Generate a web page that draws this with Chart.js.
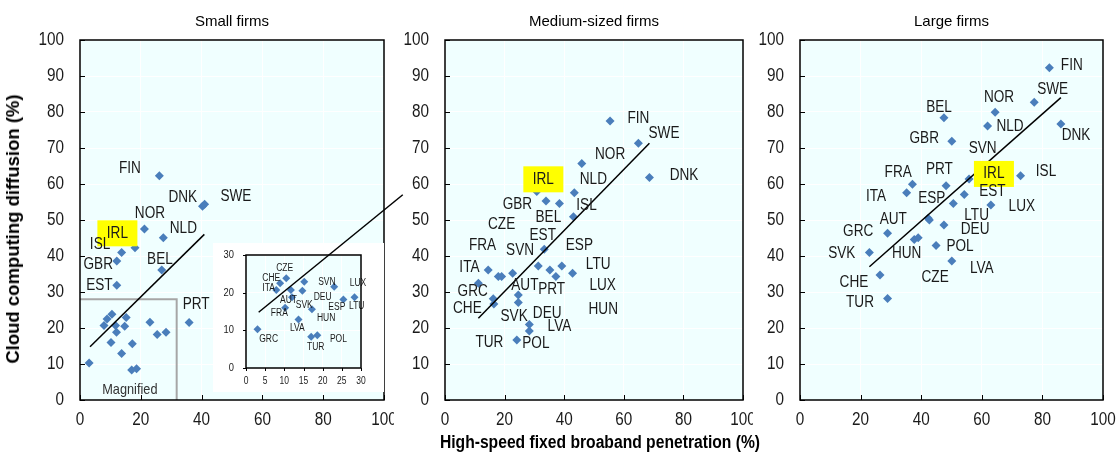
<!DOCTYPE html>
<html>
<head>
<meta charset="utf-8">
<title>Cloud computing diffusion and high-speed broadband, by firm size</title>
<script src="https://cdn.jsdelivr.net/npm/chart.js@4.4.1/dist/chart.umd.min.js"></script>
<style>
  html, body { margin: 0; padding: 0; background: #fff; }
  #fig { position: relative; width: 1117px; height: 453px; overflow: hidden; }
  #fig canvas { position: absolute; top: 0; }
  #c1 { left: 0; }
  #c2 { left: 395px; }
  #c3 { left: 750px; }
  #cInset { left: 205px; top: 180px !important; }
  .axis-title { position: absolute; font-family: "Liberation Sans", Arial, sans-serif;
    font-weight: bold; color: #000; white-space: nowrap; }
  #yTitle { left: 13px; top: 229px; font-size: 18.5px; transform: translate(-50%, -50%) rotate(-90deg); }
  #xTitle { left: 600px; top: 442px; font-size: 18px; transform: translate(-50%, -50%) scaleX(0.87); }
</style>
</head>
<body>
<div id="fig">
  <canvas id="c1" width="394" height="453"></canvas>
  <canvas id="c2" width="358" height="453"></canvas>
  <canvas id="c3" width="367" height="453"></canvas>
  <canvas id="cInset" width="205" height="215"></canvas>
  <div class="axis-title" id="yTitle">Cloud computing diffusion (%)</div>
  <div class="axis-title" id="xTitle">High-speed fixed broaband penetration (%)</div>
</div>
<script>
const FONT = '"Liberation Sans", Arial, sans-serif';
const NARROW = 0.85;          // horizontal squeeze, mimics Arial Narrow
const MARKER = '#4A7EBB';
const PLOT_BG = '#F0FFFF';
const INK = '#1A1A1A';

// ── tick labels ─────────────────────────────
const xTickVals = [0, 20, 40, 60, 80, 100];
const yTickVals = [0, 10, 20, 30, 40, 50, 60, 70, 80, 90, 100];
const insetXTickVals = [0, 5, 10, 15, 20, 25, 30];
const insetYTickVals = [0, 10, 20, 30];

// ── Small firms ─────────────────────────────
const smallCountries = ['FIN', 'DNK', 'SWE', 'NOR', 'NLD', 'IRL', 'ISL', 'GBR', 'BEL', 'EST', 'PRT', 'CZE', 'CHE', 'ITA',
  'LUX', 'DEU', 'SVK', 'AUT', 'FRA', 'HUN', 'SVN', 'ESP', 'LTU', 'LVA', 'TUR', 'POL', 'GRC'];
const smallBroadband = [26.1, 40.3, 41.0, 21.2, 27.4, 18.1, 13.7, 12.1, 26.9, 12.1, 35.9, 10.5, 8.9, 7.9,
  11.7, 15.2, 14.7, 12.0, 10.2, 17.2, 23.0, 25.4, 28.3, 13.7, 17.0, 18.6, 3.0];
const smallCloud = [62.3, 53.8, 54.4, 47.5, 45.1, 42.3, 41.0, 38.6, 36.1, 31.9, 21.5, 23.8, 22.5, 20.7,
  20.7, 22.9, 20.5, 18.8, 16.0, 15.6, 21.6, 18.2, 18.8, 12.9, 8.3, 8.7, 10.3];
const smallTrendX = [3.3, 40.9];
const smallTrendY = [14.8, 46.0];
const magnifiedX = [0, 31.8, 31.8];
const magnifiedY = [28, 28, 0];

// ── Medium-sized firms ──────────────────────
const mediumCountries = ['FIN', 'SWE', 'NOR', 'DNK', 'IRL', 'NLD', 'GBR', 'BEL', 'ISL', 'EST', 'ITA', 'FRA', 'CZE', 'SVN',
  'HUN', 'LUX', 'ESP', 'LTU', 'PRT', 'GRC', 'CHE', 'TUR', 'AUT', 'SVK', 'DEU', 'LVA', 'POL'];
const mediumBroadband = [55.4, 64.9, 45.9, 68.6, 30.8, 43.4, 33.9, 38.4, 43.1, 33.3, 14.5, 17.9, 19.0, 22.7,
  31.3, 35.2, 39.2, 42.8, 37.2, 11.2, 16.4, 16.2, 24.6, 24.6, 28.3, 28.3, 24.1];
const mediumCloud = [77.5, 71.3, 65.7, 61.8, 57.9, 57.6, 55.3, 54.6, 50.9, 41.9, 36.1, 34.3, 34.3, 35.2,
  37.2, 36.1, 37.2, 35.2, 34.3, 32.4, 26.7, 28.1, 29.2, 27.1, 21.0, 19.2, 16.7];
const mediumTrendX = [11.2, 68.6];
const mediumTrendY = [22.7, 71.3];

// ── Large firms ─────────────────────────────
const largeCountries = ['FIN', 'SWE', 'NOR', 'BEL', 'NLD', 'DNK', 'GBR', 'ISL', 'IRL', 'SVN', 'FRA', 'PRT', 'ITA', 'EST',
  'ESP', 'LUX', 'AUT', 'LTU', 'DEU', 'GRC', 'HUN', 'CZE', 'POL', 'SVK', 'LVA', 'CHE', 'TUR'];
const largeBroadband = [82.3, 77.3, 64.4, 47.5, 61.9, 86.1, 50.1, 72.8, 55.8, 60.0, 37.1, 48.2, 35.2, 54.2,
  50.6, 63.0, 42.3, 42.7, 47.5, 28.9, 37.7, 39.0, 44.9, 22.9, 50.1, 26.4, 28.9];
const largeCloud = [92.3, 82.7, 79.9, 78.4, 76.1, 76.7, 71.9, 62.3, 61.4, 63.0, 59.9, 59.5, 57.6, 57.1,
  54.6, 54.2, 50.5, 50.0, 48.6, 46.3, 44.6, 45.1, 42.9, 41.0, 38.6, 34.7, 28.2];
const largeTrendX = [22.9, 86.1];
const largeTrendY = [37.0, 84.0];

// ── where each country code sits (axis units) ─
const smallLabelAt = {
  FIN: [16.4, 64.4], DNK: [33.8, 56.2], SWE: [51.3, 56.4], NOR: [23.0, 51.7], NLD: [34.0, 47.5],
  IRL: [12.3, 46.3], ISL: [6.6, 43.1], GBR: [6.0, 37.5], BEL: [26.3, 39.1], EST: [6.4, 31.9], PRT: [38.2, 26.4],
};
const insetLabelAt = {
  CZE: [10.1, 26.4], CHE: [6.6, 23.8], ITA: [5.9, 21.3], AUT: [11.1, 18.0], FRA: [8.7, 14.5], SVK: [15.2, 16.7],
  SVN: [21.1, 22.7], LUX: [29.2, 22.5], DEU: [20.0, 18.9], ESP: [23.7, 16.0], LTU: [28.9, 16.3], HUN: [20.9, 13.2],
  LVA: [13.4, 10.5], GRC: [5.9, 7.6], TUR: [18.2, 5.6], POL: [24.1, 7.7],
};
const mediumLabelAt = {
  FIN: [64.9, 78.2], SWE: [73.5, 74.1], NOR: [55.4, 68.1], DNK: [80.2, 62.2], IRL: [33.0, 61.3], NLD: [49.8, 61.3],
  GBR: [24.3, 54.2], BEL: [34.7, 50.7], ISL: [47.5, 53.9], CZE: [19.0, 48.6], EST: [32.8, 45.6], FRA: [12.6, 42.8],
  SVN: [25.2, 41.5], ESP: [45.1, 42.8], ITA: [8.2, 36.9], LTU: [51.4, 37.5], GRC: [9.3, 30.1], AUT: [26.8, 31.7],
  PRT: [35.8, 30.6], LUX: [52.9, 31.9], CHE: [7.5, 25.5], SVK: [23.2, 23.1], DEU: [34.3, 24.1], HUN: [53.1, 25.2],
  LVA: [38.4, 20.4], TUR: [14.9, 15.9], POL: [30.5, 15.7],
};
const largeLabelAt = {
  FIN: [89.7, 92.8], SWE: [83.4, 86.1], NOR: [65.7, 84.0], BEL: [45.9, 81.2], NLD: [69.3, 75.9], DNK: [91.1, 73.4],
  GBR: [41.0, 72.7], SVN: [60.3, 69.9], IRL: [64.0, 62.8], ISL: [81.2, 63.4], FRA: [32.4, 63.1], PRT: [46.0, 64.1],
  ITA: [25.1, 56.5], ESP: [43.5, 56.0], EST: [63.5, 57.9], LUX: [73.2, 53.7], AUT: [30.8, 50.2], LTU: [58.3, 51.1],
  GRC: [19.2, 46.8], DEU: [57.8, 47.2], SVK: [13.8, 40.8], HUN: [35.2, 40.8], POL: [52.8, 42.6], LVA: [60.0, 36.6],
  CZE: [44.6, 34.1], CHE: [17.8, 32.6], TUR: [19.8, 27.0],
};

// ────────────────────────────────────────────
// Text helper: squeezed text (no Arial Narrow installed)
// ────────────────────────────────────────────
function narrowText(ctx, text, x, y, align, size) {
  ctx.save();
  ctx.font = `${size}px ${FONT}`;
  ctx.textAlign = align;
  ctx.textBaseline = 'middle';
  ctx.translate(x, y);
  ctx.scale(NARROW, 1);
  ctx.fillText(text, 0, 0);
  ctx.restore();
}

// ────────────────────────────────────────────
// Plugins
// ────────────────────────────────────────────
const countryLabels = {
  id: 'countryLabels',
  afterDatasetsDraw(chart, args, o) {
    if (!o.pos) return;
    const { ctx, scales: { x, y } } = chart;
    ctx.save();
    ctx.fillStyle = INK;
    for (const [name, [lx, ly]] of Object.entries(o.pos)) {
      const px = x.getPixelForValue(lx);
      const py = y.getPixelForValue(ly);
      if (name === 'IRL') {
        ctx.fillStyle = '#FFFF00';
        ctx.fillRect(px - 20, py - 13, 40, 26);
        ctx.fillStyle = INK;
      }
      narrowText(ctx, name, px, py, 'center', o.size);
    }
    if (o.note) {
      ctx.fillStyle = '#333';
      narrowText(ctx, o.note[0], x.getPixelForValue(o.note[1]), y.getPixelForValue(o.note[2]), 'center', o.noteSize);
    }
    ctx.restore();
  },
};

const panelDecor = {
  id: 'panelDecor',
  beforeDraw(chart, args, o) {
    const { ctx, chartArea: a } = chart;
    ctx.save();
    if (o.whiteBox) {
      ctx.fillStyle = '#FFFFFF';
      ctx.fillRect(...o.whiteBox);
    }
    ctx.fillStyle = PLOT_BG;
    ctx.fillRect(a.left, a.top, a.right - a.left, a.bottom - a.top);
    ctx.restore();
  },
  afterDraw(chart, args, o) {
    const { ctx, chartArea: a, scales: { x, y } } = chart;
    ctx.save();
    ctx.strokeStyle = '#000';
    ctx.lineWidth = 1;
    // tick marks: inward (+) or outward (-)
    ctx.beginPath();
    y.ticks.forEach(t => {
      const py = Math.round(y.getPixelForValue(t.value)) + 0.5;
      ctx.moveTo(a.left, py);
      ctx.lineTo(a.left + o.tickLen, py);
    });
    x.ticks.forEach(t => {
      const px = Math.round(x.getPixelForValue(t.value)) + 0.5;
      ctx.moveTo(px, a.bottom);
      ctx.lineTo(px, a.bottom - o.tickLen);
    });
    ctx.stroke();
    ctx.lineWidth = o.frameWidth;
    ctx.strokeRect(a.left, a.top, a.right - a.left, a.bottom - a.top);

    // tick labels
    ctx.fillStyle = INK;
    y.ticks.forEach(t => narrowText(ctx, String(t.value), a.left - o.yGap, y.getPixelForValue(t.value), 'right', o.yFont));
    x.ticks.forEach(t => narrowText(ctx, String(t.value), x.getPixelForValue(t.value), a.bottom + o.xGap, 'center', o.xFont));

    if (o.title) {
      ctx.fillStyle = '#000';
      ctx.font = `15px ${FONT}`;
      ctx.textAlign = 'center';
      ctx.textBaseline = 'middle';
      ctx.fillText(o.title, (a.left + a.right) / 2, o.titleY);
    }
    ctx.restore();
  },
};

// ────────────────────────────────────────────
// Helpers
// ────────────────────────────────────────────
function toPoints(xs, ys) {
  return xs.map((x, i) => ({ x, y: ys[i] }));
}

function scatterSet(xs, ys, radius) {
  return {
    data: toPoints(xs, ys),
    pointStyle: 'rectRot',
    pointRadius: radius,
    pointHoverRadius: radius,
    backgroundColor: MARKER,
    borderColor: MARKER,
    borderWidth: 0,
    showLine: false,
  };
}

function lineSet(xs, ys, color, width, extra) {
  return Object.assign({
    data: toPoints(xs, ys),
    showLine: true,
    borderColor: color,
    borderWidth: width,
    pointRadius: 0,
    fill: false,
  }, extra || {});
}

function axis(ticksList, max, fixedSize, isY) {
  return {
    type: 'linear',
    min: 0,
    max: max,
    afterBuildTicks: s => { s.ticks = ticksList.map(v => ({ value: v })); },
    afterFit: s => { if (isY) s.width = fixedSize; else s.height = fixedSize; },
    grid: { color: '#FFFFFF', lineWidth: 1, drawTicks: false },
    border: { display: false },
    ticks: { display: false },
  };
}

function panel(canvasId, title, datasets, labelPos, padRight, yWidth, note) {
  return new Chart(document.getElementById(canvasId), {
    type: 'scatter',
    data: { datasets },
    plugins: [panelDecor, countryLabels],
    options: {
      responsive: false,
      animation: false,
      events: [],
      layout: { autoPadding: false, padding: { left: 0, top: 40, right: padRight, bottom: 0 } },
      scales: {
        x: axis(xTickVals, 100, 53, false),
        y: axis(yTickVals, 100, yWidth, true),
      },
      plugins: {
        legend: { display: false },
        tooltip: { enabled: false },
        panelDecor: { title, titleY: 22, tickLen: 5, frameWidth: 1.5, yGap: 16, xGap: 20, yFont: 18, xFont: 18 },
        countryLabels: { pos: labelPos, size: 16, note, noteSize: 15 },
      },
    },
  });
}

// ────────────────────────────────────────────
// Panels
// ────────────────────────────────────────────
panel('c1', 'Small firms', [
  lineSet(smallTrendX, smallTrendY, '#000', 1.5),
  scatterSet(smallBroadband, smallCloud, 4.5),
  lineSet(magnifiedX, magnifiedY, '#A6A6A6', 2),
], smallLabelAt, 10, 80, ['Magnified', 16.4, 2.8]);

panel('c2', 'Medium-sized firms', [
  lineSet(mediumTrendX, mediumTrendY, '#000', 1.5),
  scatterSet(mediumBroadband, mediumCloud, 4.5),
], mediumLabelAt, 10, 50);

panel('c3', 'Large firms', [
  lineSet(largeTrendX, largeTrendY, '#000', 1.5),
  scatterSet(largeBroadband, largeCloud, 4.5),
], largeLabelAt, 14, 50);

// Magnified inset of the small-firm panel (0–30 on both axes)
new Chart(document.getElementById('cInset'), {
  type: 'scatter',
  data: {
    datasets: [
      lineSet(smallTrendX, smallTrendY, '#000', 1.5, { clip: false }),
      scatterSet(smallBroadband, smallCloud, 4),
    ],
  },
  plugins: [panelDecor, countryLabels],
  options: {
    responsive: false,
    animation: false,
    events: [],
    layout: { autoPadding: false, padding: { left: 0, top: 75, right: 49, bottom: 0 } },
    scales: {
      x: axis(insetXTickVals, 30, 27, false),
      y: axis(insetYTickVals, 30, 41, true),
    },
    plugins: {
      legend: { display: false },
      tooltip: { enabled: false },
      panelDecor: { whiteBox: [8, 63, 171, 149], tickLen: -3, frameWidth: 1.5, yGap: 12, xGap: 13, yFont: 11, xFont: 10 },
      countryLabels: { pos: insetLabelAt, size: 10 },
    },
  },
});
</script>
</body>
</html>
